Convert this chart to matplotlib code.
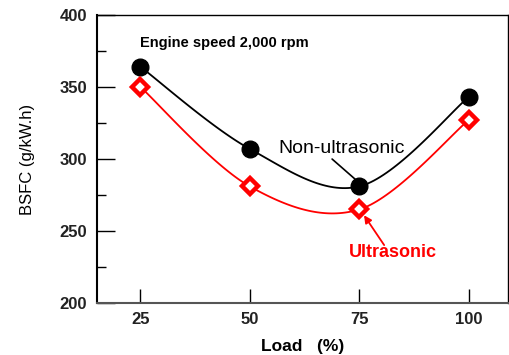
import numpy as np
import matplotlib
matplotlib.use("Agg")
import matplotlib.pyplot as plt
from matplotlib.ticker import MultipleLocator

plt.rcParams["font.family"] = ["Liberation Sans", "DejaVu Sans"]

load = [25, 50, 75, 100]
non_ultrasonic = [364, 307, 281, 343]
ultrasonic = [350, 281, 265, 327]


def smooth(xs, ys, n=40):
    # Catmull-Rom style smoothing, like a spreadsheet "smoothed line"
    xs = np.asarray(xs, float)
    ys = np.asarray(ys, float)
    px = np.concatenate([[xs[0]], xs, [xs[-1]]])
    py = np.concatenate([[ys[0]], ys, [ys[-1]]])
    out_x, out_y = [], []
    t = np.linspace(0, 1, n)
    for i in range(1, len(px) - 2):
        for arr, out in ((px, out_x), (py, out_y)):
            p0, p1, p2, p3 = arr[i - 1], arr[i], arr[i + 1], arr[i + 2]
            out.extend(0.5 * ((2 * p1) + (-p0 + p2) * t
                              + (2 * p0 - 5 * p1 + 4 * p2 - p3) * t ** 2
                              + (-p0 + 3 * p1 - 3 * p2 + p3) * t ** 3))
    return out_x, out_y


fig = plt.figure(figsize=(5.09, 3.55), dpi=100)
ax = fig.add_axes([0.19, 0.146, 0.808, 0.812])

sx, sy = smooth(load, non_ultrasonic)
ax.plot(sx, sy, color="black", lw=1.3)
ax.plot(load, non_ultrasonic, "o", color="black", ms=12)

sx, sy = smooth(load, ultrasonic)
ax.plot(sx, sy, color="red", lw=1.3)
ax.plot(load, ultrasonic, "D", color="red", mfc="white", mew=3.2, ms=8)

ax.set_xlim(15, 109)
ax.set_ylim(200, 400)
ax.set_xticks(load)
ax.yaxis.set_major_locator(MultipleLocator(50))
ax.yaxis.set_minor_locator(MultipleLocator(25))
ax.tick_params(axis="y", which="major", direction="in", length=13, width=1, pad=7)
ax.tick_params(axis="y", which="minor", direction="in", length=6.5, width=1)
ax.tick_params(axis="x", which="major", direction="in", length=10, width=1, pad=6)
for lab in ax.get_xticklabels() + ax.get_yticklabels():
    lab.set_fontweight("bold")
    lab.set_fontsize(12)
    lab.set_color("#222222")
for s in ax.spines.values():
    s.set_linewidth(1.0)
ax.spines["left"].set_linewidth(1.5)
ax.spines["bottom"].set_linewidth(1.5)
ax.spines["bottom"].set_color("#555555")

ax.set_ylabel("BSFC (g/kW.h)", fontsize=12, va="center")
ax.yaxis.set_label_coords(-0.168, 0.5)
ax.set_xlabel("Load   (%)", fontsize=12.5, fontweight="bold", va="center")
ax.xaxis.set_label_coords(0.5, -0.152)

ax.text(24.8, 380.5, "Engine speed 2,000 rpm", fontsize=10.5, fontweight="bold",
        va="center", ha="left")
ax.text(70.9, 307, "Non-ultrasonic", fontsize=14, ha="center", va="center")
ax.annotate("", xy=(74.3, 285.4), xytext=(68.8, 300),
            arrowprops=dict(arrowstyle="-", color="black", lw=1.2,
                            shrinkA=0, shrinkB=0))
ax.text(82.8, 235.4, "Ultrasonic", fontsize=13, color="red", fontweight="bold",
        ha="center", va="center")
ax.annotate("", xy=(76.1, 261), xytext=(80.7, 240.3),
            arrowprops=dict(arrowstyle="-|>", color="red", lw=1.3,
                            shrinkA=0, shrinkB=0, mutation_scale=11))

fig.savefig("out.png", dpi=100)
